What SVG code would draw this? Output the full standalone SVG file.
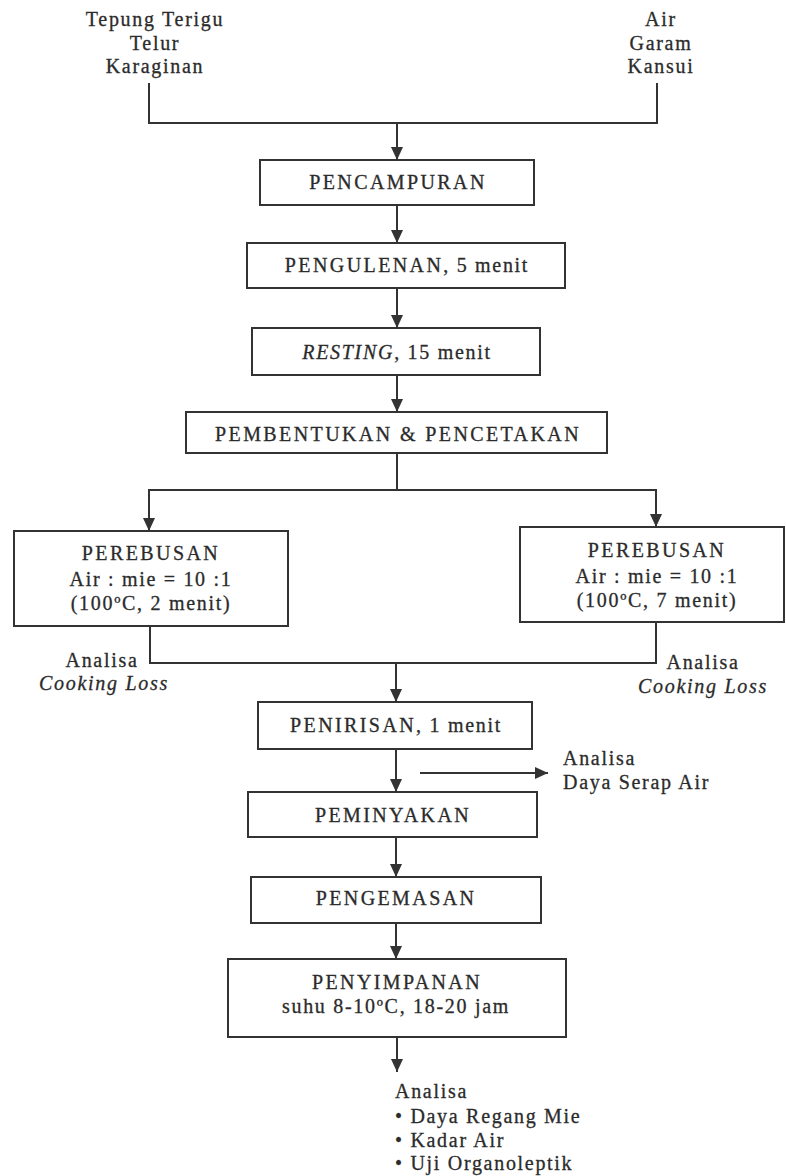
<svg xmlns="http://www.w3.org/2000/svg" width="786" height="1176" viewBox="0 0 786 1176">
<defs>
<marker id="ah" viewBox="0 0 13 12" refX="13" refY="6" markerWidth="13" markerHeight="12" markerUnits="userSpaceOnUse" orient="auto"><path d="M0,0 L13,6 L0,12 z" fill="#333"/></marker>
<style>
.box{fill:#fff;stroke:#333;stroke-width:2}
.ln{fill:none;stroke:#333;stroke-width:2}
.ar{fill:none;stroke:#333;stroke-width:2;marker-end:url(#ah)}
text{font-family:"Liberation Serif","Times New Roman",serif;font-size:20px;fill:#2b2b2b;stroke:#2b2b2b;stroke-width:0.3px;letter-spacing:1.7px}
.c{text-anchor:middle}
.up{letter-spacing:2.4px}
.it{font-style:italic}
</style>
</defs>
<rect width="786" height="1176" fill="#fff"/>
<g id="inputs-left">
<text class="c" x="155" y="26">Tepung Terigu</text>
<text class="c" x="155" y="50">Telur</text>
<text class="c" x="155" y="73">Karaginan</text>
</g>
<g id="inputs-right">
<text class="c" x="661" y="26">Air</text>
<text class="c" x="661" y="50">Garam</text>
<text class="c" x="661" y="73">Kansui</text>
</g>
<g id="connectors">
<path class="ln" d="M149,83 V123 H657 V83"/>
<path class="ar" d="M397,123 V160"/>
<path class="ar" d="M397,205 V243"/>
<path class="ar" d="M397,288 V328"/>
<path class="ar" d="M397,375 V412"/>
<path class="ln" d="M397,453 V490"/>
<path class="ar" d="M397,490 H149 V531"/>
<path class="ar" d="M397,490 H656 V527"/>
<path class="ln" d="M150,626 V663 H656 V622"/>
<path class="ar" d="M396,663 V702"/>
<path class="ar" d="M396,749 V792"/>
<path class="ar" d="M420,773 H548"/>
<path class="ar" d="M396,837 V877"/>
<path class="ar" d="M396,923 V959"/>
<path class="ar" d="M397,1037 V1072"/>
</g>
<g id="pencampuran">
<rect class="box" x="260" y="160" width="274" height="45"/>
<text class="c up" x="398" y="189">PENCAMPURAN</text>
</g>
<g id="pengulenan">
<rect class="box" x="247" y="243" width="318" height="45"/>
<text class="c" x="407" y="272"><tspan class="up">PENGULENAN</tspan>, 5 menit</text>
</g>
<g id="resting">
<rect class="box" x="252" y="328" width="288" height="47"/>
<text class="c" x="397" y="359"><tspan class="it">RESTING</tspan>, 15 menit</text>
</g>
<g id="pembentukan">
<rect class="box" x="186" y="412" width="421" height="41"/>
<text class="c up" x="398" y="441">PEMBENTUKAN &amp; PENCETAKAN</text>
</g>
<g id="perebusan-2">
<rect class="box" x="14" y="531" width="274" height="95"/>
<text class="c up" x="151" y="560">PEREBUSAN</text>
<text class="c" x="151" y="586">Air : mie = 10 :1</text>
<text class="c" x="151" y="610">(100ºC, 2 menit)</text>
</g>
<g id="perebusan-7">
<rect class="box" x="520" y="527" width="264" height="95"/>
<text class="c up" x="657" y="557">PEREBUSAN</text>
<text class="c" x="657" y="583">Air : mie = 10 :1</text>
<text class="c" x="657" y="607">(100ºC, 7 menit)</text>
</g>
<g id="analisa-cl-left">
<text class="c" x="102" y="667">Analisa</text>
<text class="c it" x="104" y="690">Cooking Loss</text>
</g>
<g id="analisa-cl-right">
<text class="c" x="703" y="669">Analisa</text>
<text class="c it" x="703" y="693">Cooking Loss</text>
</g>
<g id="penirisan">
<rect class="box" x="258" y="702" width="274" height="47"/>
<text class="c" x="396" y="732"><tspan class="up">PENIRISAN</tspan>, 1 menit</text>
</g>
<g id="analisa-dsa">
<text x="563" y="765">Analisa</text>
<text x="563" y="789">Daya Serap Air</text>
</g>
<g id="peminyakan">
<rect class="box" x="248" y="792" width="289" height="45"/>
<text class="c up" x="393" y="822">PEMINYAKAN</text>
</g>
<g id="pengemasan">
<rect class="box" x="251" y="877" width="290" height="46"/>
<text class="c up" x="396" y="905">PENGEMASAN</text>
</g>
<g id="penyimpanan">
<rect class="box" x="228" y="959" width="338" height="78"/>
<text class="c up" x="397" y="989">PENYIMPANAN</text>
<text class="c" x="396" y="1013">suhu 8-10ºC, 18-20 jam</text>
</g>
<g id="analisa-akhir">
<text x="395" y="1098">Analisa</text>
<text x="395" y="1123">• Daya Regang Mie</text>
<text x="395" y="1147">• Kadar Air</text>
<text x="395" y="1170">• Uji Organoleptik</text>
</g>
</svg>
